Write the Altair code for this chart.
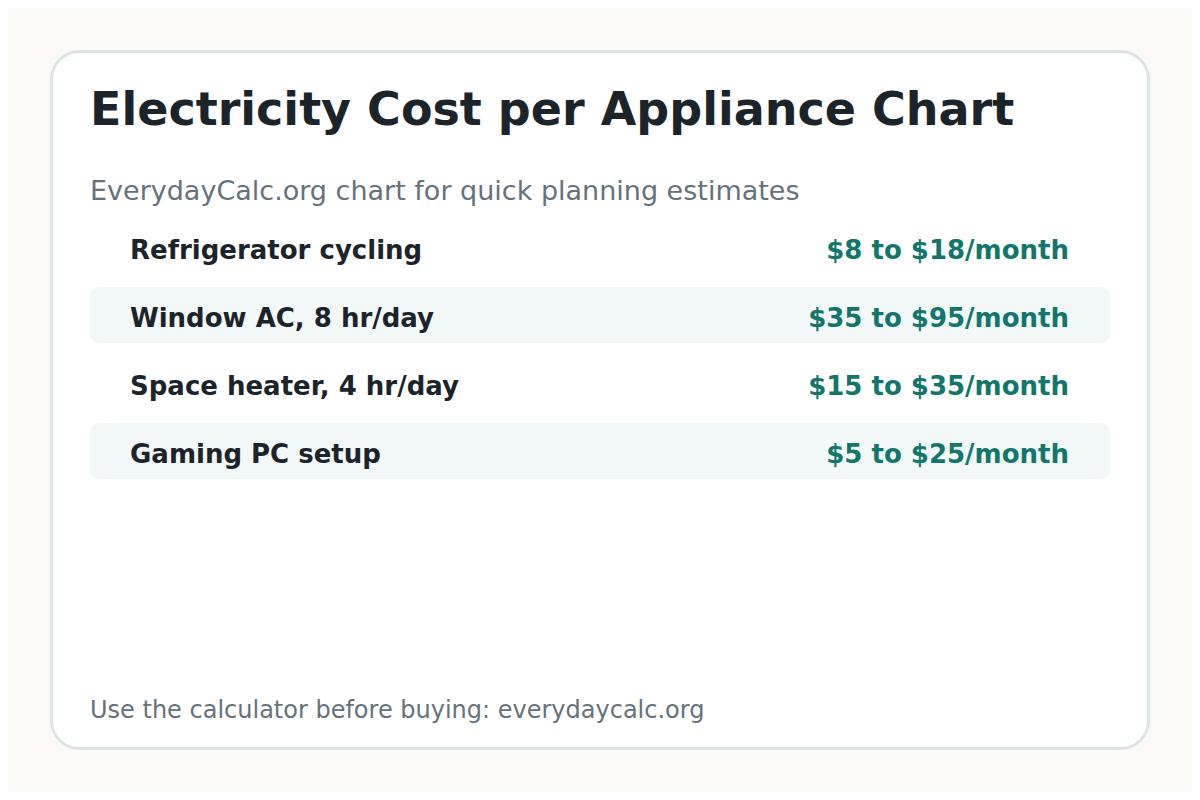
import altair as alt
import pandas as pd

# appliance rows
labels = [
    "Refrigerator cycling",
    "Window AC, 8 hr/day",
    "Space heater, 4 hr/day",
    "Gaming PC setup",
]
low_cost = [8, 35, 15, 5]
high_cost = [18, 95, 35, 25]
shaded = [False, True, False, True]

title = "Electricity Cost per Appliance Chart"
subtitle = "EverydayCalc.org chart for quick planning estimates"
footer = "Use the calculator before buying: everydaycalc.org"

FONT = "DejaVu Sans"
INK = "#1b242b"
MUTED = "#64727c"
TEAL = "#12766c"
BAND = "#f2f8f7"
BORDER = "#dce5e3"
PAGE = "#faf9f5"

df = pd.DataFrame({"label": labels, "low": low_cost, "high": high_cost, "shaded": shaded})
df["value"] = [f"${a} to ${b}/month" for a, b in zip(df["low"], df["high"])]

row_y = alt.Y(
    "label:N",
    sort=labels,
    axis=None,
    scale=alt.Scale(domain=labels, range=[205, 477], paddingInner=0, paddingOuter=0),
)

one = alt.Data(values=[{}])

card = alt.Chart(one).mark_rect(
    fill="white", stroke=BORDER, strokeWidth=3, cornerRadius=28
).encode(x=alt.value(43.5), x2=alt.value(1140.5), y=alt.value(43.5), y2=alt.value(740.5))

bands = (
    alt.Chart(df)
    .transform_filter("datum.shaded")
    .mark_rect(fill=BAND, cornerRadius=10, height=56)
    .encode(y=row_y, x=alt.value(82), x2=alt.value(1102))
)

names = alt.Chart(df).mark_text(
    font=FONT, fontSize=26, fontWeight="bold", color=INK, align="left", baseline="middle", dy=4
).encode(y=row_y, x=alt.value(122), text="label:N")

values = alt.Chart(df).mark_text(
    font=FONT, fontSize=26, fontWeight="bold", color=TEAL, align="right", baseline="middle", dy=4
).encode(y=row_y, x=alt.value(1061), text="value:N")


def line(text, y, size, color, weight="normal"):
    return alt.Chart(one).mark_text(
        font=FONT, fontSize=size, fontWeight=weight, color=color, align="left", baseline="alphabetic"
    ).encode(x=alt.value(82), y=alt.value(y), text=alt.value(text))


chart = (
    alt.layer(
        card,
        bands,
        names,
        values,
        line(title, 117, 46, INK, "bold"),
        line(subtitle, 192, 27, MUTED),
        line(footer, 710, 24, MUTED),
    )
    .properties(width=1184, height=784, padding=0, background=PAGE, autosize=alt.AutoSizeParams(type="none"))
    .configure_view(strokeWidth=0)
)

chart.save("out.html", embed_options={"renderer": "svg", "actions": False})
